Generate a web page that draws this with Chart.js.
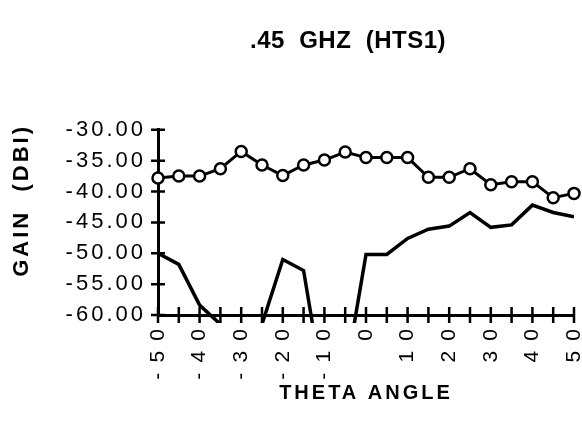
<!DOCTYPE html>
<html>
<head>
<meta charset="utf-8">
<script src="https://cdn.jsdelivr.net/npm/chart.js@4.4.1/dist/chart.umd.min.js"></script>
<style>
  html, body { margin: 0; padding: 0; background: #fff; }
  #chart { display: block; }
</style>
</head>
<body>
<canvas id="chart" width="582" height="422"></canvas>
<script>
// theta angle, degrees
const angles = [-50, -45, -40, -35, -30, -25, -20, -15, -10, -5, 0, 5, 10, 15, 20, 25, 30, 35, 40, 45, 50]
// gain in dBi (values under -60 only show as lines leaving the axis)
const gainCircles = [-37.8, -37.5, -37.5, -36.3, -33.5, -35.7, -37.4, -35.7, -34.9, -33.6, -34.5, -34.5, -34.5, -37.7, -37.7, -36.3, -38.9, -38.4, -38.4, -41.0, -40.3]
const gainPlain = [-50.0, -51.8, -58.4, -61.5, -64.0, -61.5, -51.0, -52.8, -73.0, -70.0, -50.2, -50.2, -47.6, -46.1, -45.6, -43.4, -45.8, -45.4, -42.2, -43.4, -44.1]
const yTicks = { min: -60, max: -30, step: 5 }
const xTicks = { min: -50, max: 50, step: 5, labelEvery: 10 }

const FONT = "'Liberation Sans', Arial, Helvetica, sans-serif"
const SPACING = "3px"

// old plotter look: spaced-out lettering and tick marks crossing the axes
const plotterLook = {
  id: "plotterLook",
  beforeUpdate(chart) { chart.ctx.letterSpacing = SPACING },
  afterLayout(chart) {
    const ctx = chart.ctx
    const title = chart.titleBlock
    // title is set tighter and a bit left of the plot's centre
    if (title && !title._patched) {
      const draw = title.draw
      title.draw = function (...args) {
        ctx.save()
        ctx.letterSpacing = "0.5px"
        ctx.translate(-18, 0)
        draw.apply(this, args)
        ctx.restore()
      }
      title._patched = true
    }
    // y axis title sits higher than the middle of the axis
    const y = chart.scales.y
    if (!y._patched) {
      const drawTitle = y.drawTitle
      y.drawTitle = function (...args) {
        ctx.save()
        ctx.translate(0, -22)
        drawTitle.apply(this, args)
        ctx.restore()
      }
      y._patched = true
    }
  },
  beforeDraw(chart) { chart.ctx.letterSpacing = SPACING },
  beforeDatasetsDraw(chart) {
    const { ctx, chartArea, scales: { x, y } } = chart
    ctx.save()
    ctx.strokeStyle = "#000"
    ctx.lineWidth = 2.5
    ctx.beginPath()
    y.ticks.forEach((t, i) => {
      const py = y.getPixelForTick(i)
      ctx.moveTo(chartArea.left - 7, py)
      ctx.lineTo(chartArea.left + 7, py)
    })
    x.ticks.forEach((t, i) => {
      const px = x.getPixelForTick(i)
      ctx.moveTo(px, chartArea.bottom - 8)
      ctx.lineTo(px, chartArea.bottom + 8)
    })
    ctx.stroke()
    ctx.restore()
  }
}

const toPoints = vals => angles.map((a, i) => ({ x: a, y: vals[i] }))

new Chart(document.getElementById("chart"), {
  type: "line",
  data: {
    datasets: [
      {
        data: toPoints(gainCircles),
        borderColor: "#000",
        borderWidth: 3,
        pointRadius: 5.5,
        pointBorderWidth: 2.5,
        pointBackgroundColor: "#fff",
        pointBorderColor: "#000",
        tension: 0,
        clip: false
      },
      {
        data: toPoints(gainPlain),
        borderColor: "#000",
        borderWidth: 3.5,
        pointRadius: 0,
        tension: 0,
        clip: { left: 0, top: 0, right: 0, bottom: 8 }
      }
    ]
  },
  options: {
    responsive: false,
    animation: false,
    devicePixelRatio: 1,
    layout: { padding: { left: 0, right: 5, top: 0, bottom: 0 } },
    plugins: {
      legend: { display: false },
      tooltip: { enabled: false },
      title: {
        display: true,
        text: ".45  GHZ  (HTS1)",
        fullSize: false,
        color: "#000",
        font: { family: FONT, size: 24, weight: "bold" },
        padding: { top: 27, bottom: 74 }
      }
    },
    scales: {
      x: {
        type: "linear",
        min: xTicks.min,
        max: xTicks.max,
        grid: { display: false, drawTicks: false },
        border: { display: true, color: "#000", width: 3 },
        ticks: {
          stepSize: xTicks.step,
          autoSkip: false,
          minRotation: 90,
          maxRotation: 90,
          padding: 11,
          color: "#000",
          font: { family: FONT, size: 21 },
          callback: v => v % xTicks.labelEvery === 0 ? String(v).split("").join("\u2009") : ""
        },
        title: {
          display: true,
          text: "THETA ANGLE",
          color: "#000",
          font: { family: FONT, size: 20, weight: "bold" },
          padding: { top: 0, bottom: 17 }
        },
        afterFit(s) {
          s.height = 107
          s.paddingLeft = 0
          s.paddingRight = 0
        }
      },
      y: {
        min: yTicks.min,
        max: yTicks.max,
        grid: { display: false, drawTicks: false },
        border: { display: true, color: "#000", width: 3 },
        ticks: {
          stepSize: yTicks.step,
          padding: 12,
          color: "#000",
          font: { family: FONT, size: 22 },
          callback: v => v.toFixed(2)
        },
        title: {
          display: true,
          text: "GAIN  (DBI)",
          color: "#000",
          font: { family: FONT, size: 22, weight: "bold" },
          padding: { top: 9, bottom: 0 }
        },
        afterFit(s) {
          s.width = 158
          s.paddingTop = 0
          s.paddingBottom = 0
        }
      }
    }
  },
  plugins: [plotterLook]
})
</script>
</body>
</html>
